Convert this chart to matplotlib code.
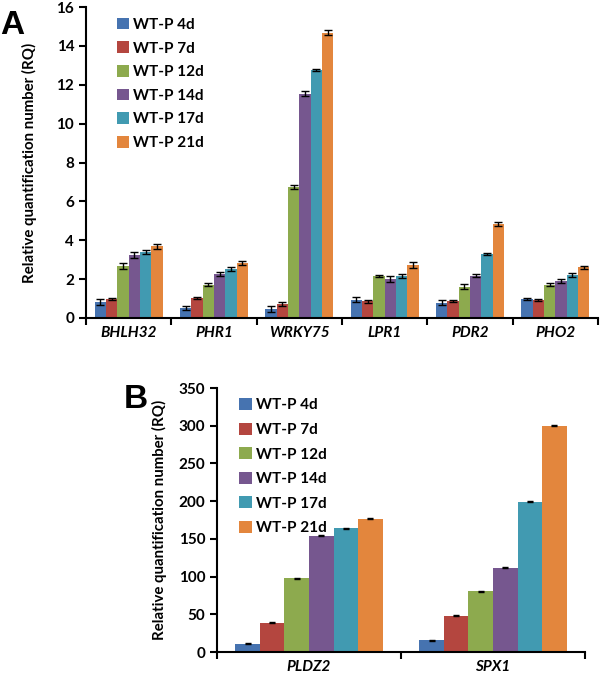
import numpy as np
import matplotlib.pyplot as plt

plt.rcParams['font.family'] = ['Lato', 'DejaVu Sans']
plt.rcParams['font.weight'] = 'bold'

series = ['WT-P 4d', 'WT-P 7d', 'WT-P 12d', 'WT-P 14d', 'WT-P 17d', 'WT-P 21d']
colors = ['#4673B0', '#B4463F', '#8DAA4E', '#76578F', '#419AB1', '#E3863D']

genes_a = ['BHLH32', 'PHR1', 'WRKY75', 'LPR1', 'PDR2', 'PHO2']
# rows = series, cols = genes
vals_a = [
    [0.82, 0.50, 0.47, 0.94, 0.79, 0.98],
    [0.97, 1.02, 0.73, 0.86, 0.89, 0.93],
    [2.68, 1.72, 6.72, 2.16, 1.61, 1.72],
    [3.25, 2.27, 11.55, 2.00, 2.18, 1.92],
    [3.38, 2.53, 12.76, 2.16, 3.29, 2.23],
    [3.68, 2.83, 14.68, 2.73, 4.84, 2.61],
]
err_a = [
    [0.15, 0.10, 0.15, 0.12, 0.12, 0.06],
    [0.05, 0.05, 0.10, 0.08, 0.05, 0.07],
    [0.14, 0.07, 0.10, 0.04, 0.12, 0.08],
    [0.15, 0.10, 0.12, 0.14, 0.08, 0.10],
    [0.10, 0.10, 0.07, 0.10, 0.07, 0.10],
    [0.12, 0.10, 0.14, 0.14, 0.09, 0.09],
]

genes_b = ['PLDZ2', 'SPX1']
vals_b = [
    [11, 15.5],
    [39, 48],
    [98, 80.5],
    [154, 111.5],
    [164, 199.5],
    [176.5, 300],
]
err_b = [
    [0.8, 0.6],
    [0.6, 0.6],
    [0.6, 0.6],
    [0.6, 0.6],
    [0.6, 0.6],
    [0.6, 0.6],
]


def draw(ax, genes, vals, errs, ymax, ystep, capsize, legend_anchor, legend_space):
    n = len(series)
    x = np.arange(len(genes))
    group = 0.8
    w = group / n
    for i in range(n):
        pos = x - group / 2 + w * (i + 0.5)
        ax.bar(pos, vals[i], w, color=colors[i], label=series[i], zorder=2)
        ax.errorbar(pos, vals[i], yerr=errs[i], fmt='none', ecolor='black',
                    elinewidth=1, capsize=capsize, capthick=1, zorder=3)
    ax.set_xlim(-0.5, len(genes) - 0.5)
    ax.set_ylim(0, ymax)
    ax.set_yticks(np.arange(0, ymax + 0.1, ystep))
    ax.set_xticks(x)
    ax.set_xticklabels(genes, fontstyle='italic', fontweight='bold', fontsize=11)
    ax.set_xticks(np.arange(-0.5, len(genes), 1.0), minor=True)
    ax.tick_params(axis='x', which='major', length=0, pad=6)
    ax.tick_params(axis='x', which='minor', length=5, width=1.5, direction='out')
    ax.tick_params(axis='y', length=5, width=1.5, labelsize=11, direction='out')
    for lab in ax.get_yticklabels():
        lab.set_fontweight('bold')
    for s in ['top', 'right']:
        ax.spines[s].set_visible(False)
    for s in ['left', 'bottom']:
        ax.spines[s].set_linewidth(1.5)
    ax.set_ylabel('Relative quantification number (RQ)', fontsize=10.8, fontweight='bold')
    ax.legend(loc='upper left', bbox_to_anchor=legend_anchor, frameon=False,
              handlelength=0.8, handleheight=0.8, handletextpad=0.3,
              labelspacing=legend_space, borderpad=0,
              prop={'weight': 'bold', 'size': 11})


fig = plt.figure(figsize=(6, 6.76), dpi=100)

ax1 = fig.add_axes([0.1433, 0.5296, 0.8534, 0.46])
draw(ax1, genes_a, vals_a, err_a, 16, 2, 3, (0.045, 0.99), 0.62)
ax1.yaxis.set_label_coords(-0.095, 0.5)

ax2 = fig.add_axes([0.3617, 0.0355, 0.6133, 0.3905])
draw(ax2, genes_b, vals_b, err_b, 350, 50, 2, (0.04, 0.99), 0.68)
ax2.yaxis.set_label_coords(-0.135, 0.5)

fig.text(0.0, 0.985, 'A', fontsize=24, fontweight='bold', va='top', ha='left',
         family='Liberation Sans')
fig.text(0.207, 0.432, 'B', fontsize=24, fontweight='bold', va='top', ha='left',
         family='Liberation Sans')

fig.savefig('out.png', dpi=100)
